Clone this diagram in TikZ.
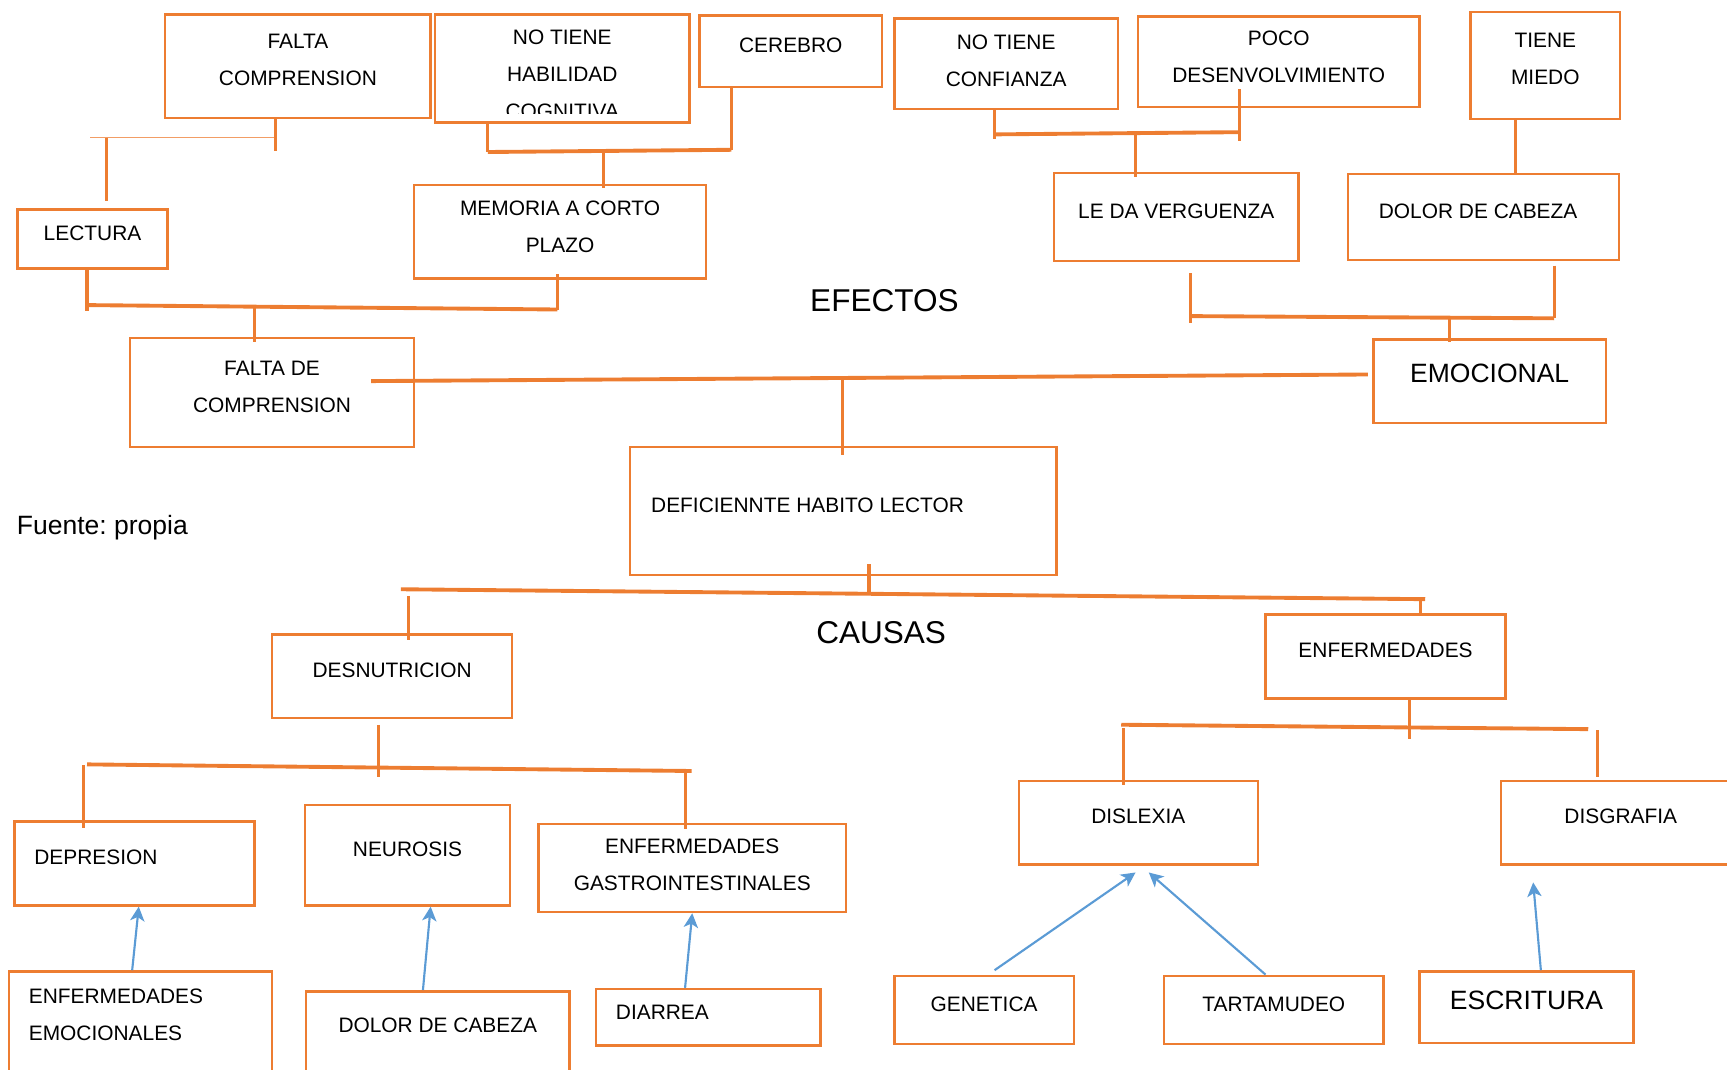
\documentclass[tikz,border=0pt]{standalone}
\usepackage{fontspec}
\setmainfont{Liberation Sans}
\usetikzlibrary{arrows.meta, positioning}
\definecolor{corange}{RGB}{237,125,49}
\definecolor{cblue}{RGB}{91,155,213}
\frenchspacing

\begin{document}
\begin{tikzpicture}[x=0.02cm, y=-0.02cm,
  cbox/.style 2 args={draw=corange, line width=1.3pt, rectangle, minimum width=#1*0.02cm, minimum height=#2*0.02cm, inner sep=0pt},
  ctxt/.style={align=center, inner sep=0pt, font=\fontsize{10.8}{19.1}\selectfont},
  bigtxt/.style={align=center, inner sep=0pt, font=\fontsize{13.7}{16}\selectfont},
  head/.style={inner sep=0pt, font=\fontsize{16.3}{18}\selectfont},
  cbar/.style={draw=corange, line width=2pt},
  cstem/.style={draw=corange, line width=1.6pt},
  carr/.style={draw=cblue, line width=1.1pt, -{Stealth[length=2.6mm, width=2.6mm, inset=0.7mm]}}
]
  \useasboundingbox (0,0) rectangle (1568,971);

  % efectos
  \node[cbox={241}{94}, label={[ctxt,yshift=0.12cm]center:FALTA\\COMPRENSION}] (fc) at (270.5,60) {};
  \node[cbox={231}{98}] (nth) at (510.5,62) {};
  \begin{scope}
    \clip (nth.north west) rectangle ([yshift=0.19cm]nth.south east);
    \node[ctxt] (nthtxt) at (510.5,67.3) {NO TIENE\\HABILIDAD\\COGNITIVA};
  \end{scope}
  \node[cbox={166}{65}, label={[ctxt,yshift=0.11cm]center:CEREBRO}] (cer) at (718,46.5) {};
  \node[cbox={203}{82}, label={[ctxt,yshift=0.06cm]center:NO TIENE\\CONFIANZA}] (ntc) at (913.5,58) {};
  \node[cbox={256}{82}, label={[ctxt,yshift=0.08cm]center:POCO\\DESENVOLVIMIENTO}] (pd) at (1161,56) {};
  \node[cbox={136}{97}, label={[ctxt,yshift=0.12cm]center:TIENE\\MIEDO}] (tm) at (1403,59.5) {};
  \node[cbox={136}{54}, label={[ctxt,yshift=0.1cm]center:LECTURA}] (lec) at (84,217) {};
  \node[cbox={265}{85}, label={[ctxt,yshift=0.1cm]center:MEMORIA A CORTO\\PLAZO}] (mem) at (508.5,210.5) {};
  \node[cbox={222}{80}, label={[ctxt,yshift=0.1cm]center:LE DA VERGUENZA}] (ver) at (1068,197) {};
  \node[cbox={246}{78}, label={[ctxt,xshift=-0.1cm,yshift=0.1cm]center:DOLOR DE CABEZA}] (dcab) at (1347,197) {};
  \node[cbox={258}{99}, label={[ctxt,yshift=0.11cm]center:FALTA DE\\COMPRENSION}] (fdc) at (247,356.5) {};
  \node[cbox={211}{76}, label={[bigtxt,yshift=0.14cm]center:EMOCIONAL}] (emo) at (1352.5,346) {};
  \node[cbox={387}{116}, label={[ctxt,anchor=west,xshift=0.4cm,yshift=0.1cm]west:DEFICIENNTE HABITO LECTOR}] (dhl) at (765.5,464) {};

  \node[head] (efectos) at (803,273) {EFECTOS};
  \node[anchor=base west, inner sep=0pt, font=\fontsize{13.7}{16}\selectfont] (src) at (15,485) {Fuente: propia};

  \coordinate (a1) at (82,125);
  \coordinate (a2) at (250,125);
  \coordinate (a3) at (97,125);
  \draw[draw=corange!75, line width=0.6pt] (a1) -- (a2);
  \draw[cstem] (fc.south -| a2) -- ++(0,29);
  \draw[cstem] (a3) -- ([yshift=0.12cm]lec.north -| a3);

  \coordinate (b1) at (443,138);
  \coordinate (b2) at (664,136);
  \coordinate (b3) at (548,137);
  \draw[cbar] (b1) -- (b2);
  \draw[cstem] (nth.south -| b1) -- (b1);
  \draw[cstem] (cer.south -| b2) -- (b2);
  \draw[cstem] (b3) -- ([yshift=-0.08cm]mem.north -| b3);

  \coordinate (c1) at (79,277);
  \coordinate (c2) at (506,281);
  \coordinate (c3) at (231,279);
  \draw[cbar] (c1) -- (c2);
  \draw[cstem] (lec.south -| c1) -- ++(0,37);
  \draw[cstem] ([yshift=0.1cm]mem.south -| c2) -- (c2);
  \draw[cstem] (c3) -- ([yshift=-0.1cm]fdc.north -| c3);

  \coordinate (d1) at (337,346);
  \coordinate (d2) at (1242,340);
  \coordinate (d3) at (765,342);
  \draw[cbar] (d1) -- (d2);
  \draw[cstem] (d3) -- ([yshift=-0.16cm]dhl.north -| d3);

  \coordinate (e1) at (903,122);
  \coordinate (e2) at (1125,120);
  \coordinate (e3) at (1031,121);
  \draw[cbar] (e1) -- (e2);
  \draw[cstem] (ntc.south -| e1) -- ++(0,26);
  \draw[cstem] ([yshift=0.34cm]pd.south -| e2) -- ++(0,47);
  \draw[cstem] (e3) -- ([yshift=-0.1cm]ver.north -| e3);

  \draw[cstem] ([xshift=-0.54cm]tm.south) -- ([xshift=-0.54cm]tm.south |- dcab.north);

  \coordinate (g1) at (1081,287);
  \coordinate (g2) at (1411,289);
  \coordinate (g3) at (1316,288);
  \draw[cbar] (g1) -- (g2);
  \draw[cstem] ([yshift=-0.2cm]ver.south -| g1) -- ++(0,45);
  \draw[cstem] ([yshift=-0.08cm]dcab.south -| g2) -- (g2);
  \draw[cstem] (g3) -- ([yshift=-0.08cm]emo.north -| g3);

  % causas
  \node[head] (causas) at (800,574) {CAUSAS};
  \node[cbox={218}{76}, label={[ctxt,yshift=0.1cm]center:DESNUTRICION}] (des) at (356,614) {};
  \node[cbox={218}{76}, label={[ctxt,yshift=0.12cm]center:ENFERMEDADES}] (enf) at (1258,596) {};
  \node[cbox={218}{76}, label={[ctxt,anchor=west,xshift=0.38cm,yshift=0.12cm]west:DEPRESION}] (dep) at (122,784) {};
  \node[cbox={186}{91}, label={[ctxt,yshift=0.11cm]center:NEUROSIS}] (neu) at (370,776.5) {};
  \node[cbox={279}{80}, label={[ctxt,yshift=0.05cm]center:ENFERMEDADES\\GASTROINTESTINALES}] (gas) at (628.5,788) {};
  \node[cbox={217}{76}, label={[ctxt,yshift=0.12cm]center:DISLEXIA}] (dis) at (1033.5,747) {};
  \node[cbox={217}{76}, label={[ctxt,yshift=0.12cm]center:DISGRAFIA}] (dsg) at (1471.5,747) {};
  \node[cbox={239}{100}, label={[ctxt,align=left,anchor=west,xshift=0.38cm,yshift=0.22cm]west:ENFERMEDADES\\EMOCIONALES}] (eem) at (127.5,932) {};
  \node[cbox={239}{90}, label={[ctxt,yshift=0.28cm]center:DOLOR DE CABEZA}] (dcab2) at (397.5,945) {};
  \node[cbox={204}{51}, label={[ctxt,anchor=west,xshift=0.38cm,yshift=0.09cm]west:DIARREA}] (dia) at (643,923.5) {};
  \node[cbox={163}{62}, label={[ctxt,yshift=0.1cm]center:GENETICA}] (gen) at (893.5,917) {};
  \node[cbox={199}{62}, label={[ctxt,yshift=0.1cm]center:TARTAMUDEO}] (tar) at (1156.5,917) {};
  \node[cbox={194}{65}, label={[bigtxt,yshift=0.13cm]center:ESCRITURA}] (esc) at (1386,914.5) {};

  \coordinate (h1) at (364,535);
  \coordinate (h2) at (1294,544);
  \coordinate (h3) at (789,538);
  \coordinate (h4) at (1290,544);
  \coordinate (h5) at (371,541);
  \draw[cbar] (h1) -- (h2);
  \draw[cstem] ([yshift=0.22cm]dhl.south -| h3) -- (h3);
  \draw[cstem] (h4) -- (enf.north -| h4);
  \draw[cstem] (h5) -- ([yshift=-0.12cm]des.north -| h5);

  \coordinate (i1) at (79,694);
  \coordinate (i2) at (628,700);
  \coordinate (i3) at (344,697);
  \coordinate (i4) at (76,695);
  \coordinate (i5) at (622,700);
  \draw[cbar] (i1) -- (i2);
  \draw[cstem] ([yshift=-0.1cm]des.south -| i3) -- ++(0,47);
  \draw[cstem] (i4) -- ([yshift=-0.14cm]dep.north -| i4);
  \draw[cstem] (i5) -- ([yshift=-0.12cm]gas.north -| i5);

  \coordinate (j1) at (1018,658);
  \coordinate (j2) at (1442,662);
  \coordinate (j3) at (1280,660);
  \coordinate (j4) at (1020,661);
  \coordinate (j5) at (1450,663);
  \draw[cbar] (j1) -- (j2);
  \draw[cstem] (enf.south -| j3) -- ++(0,36);
  \draw[cstem] (j4) -- ([yshift=-0.1cm]dis.north -| j4);
  \draw[cstem] (j5) -- ([yshift=0.04cm]dsg.north -| j5);

  \draw[carr] ([xshift=-0.15cm]eem.north) -- ([xshift=0.08cm]dep.south);
  \draw[carr] ([xshift=-0.27cm]dcab2.north) -- ([xshift=0.42cm]neu.south);
  \draw[carr] ([xshift=-0.42cm]dia.north) -- (gas.south);
  \draw[carr] ([xshift=0.19cm,yshift=0.08cm]gen.north) -- ([xshift=-0.05cm,yshift=-0.12cm]dis.south);
  \draw[carr] ([xshift=-0.15cm]tar.north) -- ([xshift=0.19cm,yshift=-0.12cm]dis.south);
  \draw[carr] ([xshift=0.26cm]esc.north) -- ([xshift=-1.59cm,yshift=-0.3cm]dsg.south);
\end{tikzpicture}
\end{document}
